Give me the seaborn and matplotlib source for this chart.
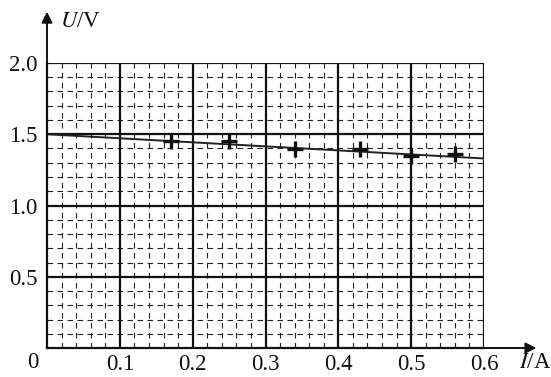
import numpy as np
import pandas as pd
import matplotlib
matplotlib.use("Agg")
import matplotlib.pyplot as plt
import seaborn as sns

# dati
corrente = [0.17, 0.25, 0.34, 0.43, 0.50, 0.56]
tensione = [1.45, 1.45, 1.40, 1.40, 1.35, 1.36]
retta_i = [0.0, 0.6]
retta_u = [1.50, 1.33]
tick_x = [0.1, 0.2, 0.3, 0.4, 0.5, 0.6]
tick_y = [0.5, 1.0, 1.5, 2.0]

sns.set_theme(style="white")
plt.rcParams['font.family'] = ['Liberation Serif', 'DejaVu Serif']
plt.rcParams['mathtext.fontset'] = 'stix'

df = pd.DataFrame({"I": corrente, "U": tensione})
df_retta = pd.DataFrame({"I": retta_i, "U": retta_u})

fig = plt.figure(figsize=(5.51, 3.77), dpi=100)
ax = fig.add_axes([47 / 551, 1 - 348 / 377, 437 / 551, 285 / 377])

# griglia fine tratteggiata
for x in np.arange(0.02, 0.6, 0.02):
    if abs(x / 0.1 - round(x / 0.1)) > 1e-6:
        ax.axvline(x, color="#222222", lw=0.8, ls=(0, (5, 4)), zorder=1)
for y in np.arange(0.1, 2.0, 0.1):
    if abs(y / 0.5 - round(y / 0.5)) > 1e-6:
        ax.axhline(y, color="#222222", lw=0.8, ls=(0, (5, 4)), zorder=1)
# griglia principale
for x in tick_x:
    ax.axvline(x, color="#111111", lw=1.6, zorder=2)
for y in tick_y:
    ax.axhline(y, color="#111111", lw=1.6, zorder=2)

sns.lineplot(data=df_retta, x="I", y="U", ax=ax, color="#222222", lw=1.4, zorder=3)
sns.scatterplot(data=df, x="I", y="U", ax=ax, marker="+", s=140, color="#111111",
                linewidth=2.4, zorder=4)

ax.set_xlim(0, 0.6)
ax.set_ylim(0, 2.0)
ax.set_xticks(tick_x)
ax.set_xticklabels([f"{v:.1f}" for v in tick_x])
ax.set_yticks(tick_y)
ax.set_yticklabels([f"{v:.1f}" for v in tick_y])
ax.tick_params(axis="y", length=0, labelsize=16.5, pad=7, colors="#111111")
ax.tick_params(axis="x", length=0, labelsize=16.5, pad=4, colors="#111111")
ax.set_xlabel("")
ax.set_ylabel("")
for s in ["top", "right"]:
    ax.spines[s].set_visible(False)
for s in ["left", "bottom"]:
    ax.spines[s].set_color("#111111")
    ax.spines[s].set_linewidth(1.6)

# frecce degli assi
ax.annotate("", xy=(0, 1.18), xytext=(0, 0), xycoords="axes fraction",
            arrowprops=dict(arrowstyle="-|>", color="#111111", lw=1.4,
                            mutation_scale=16, shrinkA=0, shrinkB=0))
ax.annotate("", xy=(1.12, 0), xytext=(0, 0), xycoords="axes fraction",
            arrowprops=dict(arrowstyle="-|>", color="#111111", lw=1.4,
                            mutation_scale=16, shrinkA=0, shrinkB=0))

ax.text(0.03, 1.145, "$U$/V", transform=ax.transAxes, fontsize=16.5, va="center",
        ha="left", color="#111111")
ax.text(1.08, -0.05, "$I$/A", transform=ax.transAxes, fontsize=16.5, va="center",
        ha="left", color="#111111")
ax.text(-0.032, -0.05, "0", transform=ax.transAxes, fontsize=16.5, va="center",
        ha="center", color="#111111")

fig.savefig("out.png", dpi=100)
